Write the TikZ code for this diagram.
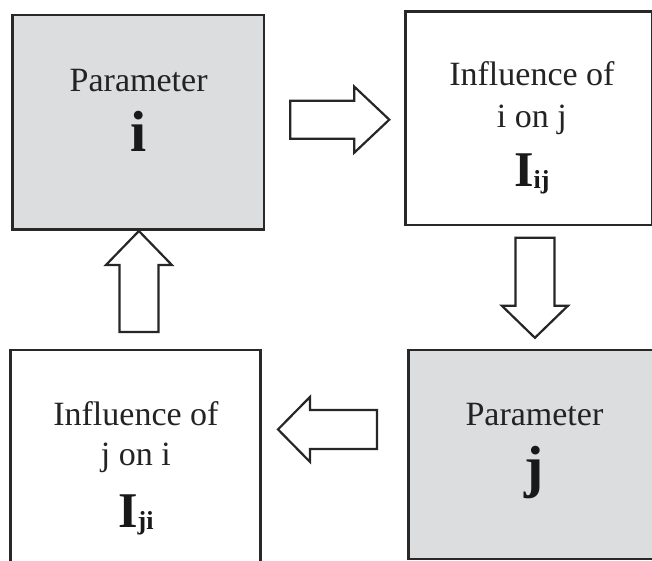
\documentclass[tikz,border=0pt]{standalone}
\usepackage{fontspec}
\setmainfont{Liberation Serif}
\usetikzlibrary{calc}
\definecolor{boxfill}{RGB}{220,221,223}
\definecolor{edgec}{RGB}{40,40,40}
\definecolor{txtc}{RGB}{35,35,35}
\tikzset{
  pbox/.style={draw=edgec, line width=2.8pt, fill=boxfill, rectangle, inner sep=0pt, anchor=north west},
  ibox/.style={draw=edgec, line width=2.8pt, fill=white, rectangle, inner sep=0pt, anchor=north west},
  lbl/.style={inner sep=0pt, anchor=base, text=txtc, font=\fontsize{34}{34}\selectfont},
  bigl/.style={inner sep=0pt, anchor=base, text=black!90, font=\fontsize{58}{58}\selectfont\bfseries},
  barrow/.style={draw=black!85, line width=2.2pt, fill=white, line join=miter}
}
\newcommand\Isub[1]{{\fontsize{50}{50}\selectfont\bfseries I}{\fontsize{26}{26}\selectfont\bfseries\raisebox{-2pt}{#1}}}
\begin{document}
\begin{tikzpicture}[x=1pt,y=-1pt]
\useasboundingbox (0,0) rectangle (652,560);
\clip (0,0) rectangle (652,560);
% boxes
\node[pbox, minimum width=251.5pt, minimum height=214.5pt] (pi) at (11,13.5) {};
\node[ibox, minimum width=247pt, minimum height=213.5pt] (iij) at (404,10) {};
\node[ibox, minimum width=250pt, minimum height=230pt] (iji) at (9,348.5) {};
\node[pbox, minimum width=250pt, minimum height=209pt] (pj) at (407,348.5) {};
% texts
\node[lbl] (pi1) at ($(pi.north)+(0.5,77.5)$) {Parameter};
\node[bigl] (pi2) at ($(pi.north)+(0.5,138)$) {i};
\node[lbl] (iij1) at ($(iij.north)+(3,75)$) {Influence of};
\node[lbl] (iij2) at ($(iij.north)+(3,117)$) {i on j};
\node[inner sep=0pt, anchor=base, text=black!90] (iij3) at ($(iij.north)+(3,176)$) {\Isub{ij}};
\node[lbl] (iji1) at ($(iji.north)+(0.5,76.5)$) {Influence of};
\node[lbl] (iji2) at ($(iji.north)+(0.5,116.5)$) {j on i};
\node[inner sep=0pt, anchor=base, text=black!90] (iji3) at ($(iji.north)+(0.5,179)$) {\Isub{ji}};
\node[lbl] (pj1) at ($(pj.north)+(1,76.5)$) {Parameter};
\node[bigl] (pj2) at ($(pj.north)+(1,138)$) {j};
% block arrows
\coordinate (ra) at ($(pi.east)+(25,-2.5)$);
\draw[barrow] (ra) ++(0,-19) -- ++(64,0) -- ++(0,-14) -- ++(35,33) -- ++(-35,33) -- ++(0,-14) -- ++(-64,0) -- cycle;
\coordinate (da) at ($(iij.south)+(6,11.5)$);
\draw[barrow] (da) ++(-19.5,0) -- ++(0,68) -- ++(-13.5,0) -- ++(33,32) -- ++(33,-32) -- ++(-13.5,0) -- ++(0,-68) -- cycle;
\coordinate (la) at ($(pj.west)+(-30,-25)$);
\draw[barrow] (la) ++(0,-19.5) -- ++(-67,0) -- ++(0,-13) -- ++(-32,32.5) -- ++(32,32.5) -- ++(0,-13) -- ++(67,0) -- cycle;
\coordinate (ua) at ($(iji.north)+(3.5,-16.5)$);
\draw[barrow] (ua) ++(-19.5,0) -- ++(0,-67) -- ++(-13.5,0) -- ++(33,-34) -- ++(33,34) -- ++(-13.5,0) -- ++(0,67) -- cycle;
\end{tikzpicture}
\end{document}
